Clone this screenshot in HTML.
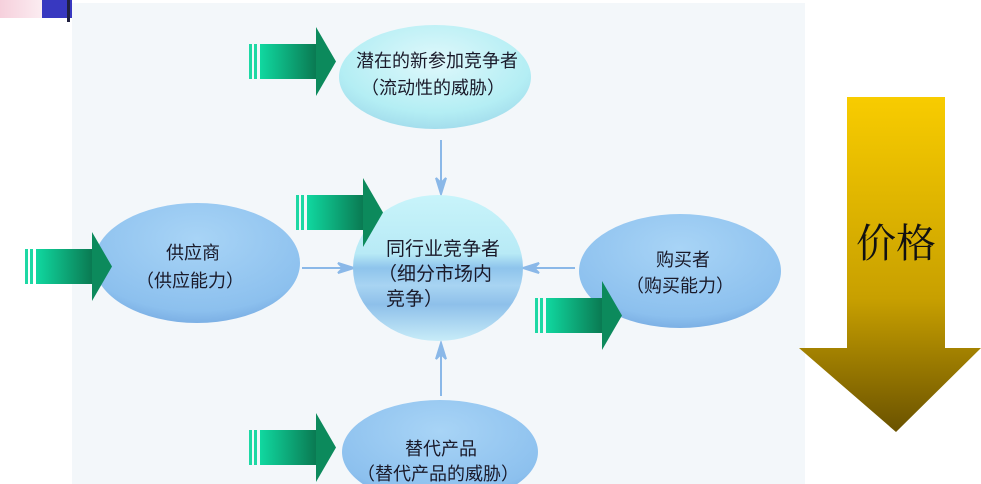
<!DOCTYPE html>
<html><head><meta charset="utf-8"><style>
body{margin:0;width:981px;height:484px;overflow:hidden;background:#fff;}
svg{display:block}
text{font-family:"Liberation Sans","Noto Sans CJK SC",sans-serif;fill:#1a1a2a;}
</style></head><body>
<svg width="981" height="484" viewBox="0 0 981 484">
<defs>
<linearGradient id="pink" x1="0" x2="1"><stop offset="0" stop-color="#f6d0dc"/><stop offset="1" stop-color="#fff"/></linearGradient>
<linearGradient id="grn" x1="0" x2="1"><stop offset="0" stop-color="#10d8a0"/><stop offset="1" stop-color="#0a7a52"/></linearGradient>
<linearGradient id="gold" x1="0" y1="0" x2="0" y2="1"><stop offset="0" stop-color="#f8cc00"/><stop offset="0.6" stop-color="#c8a000"/><stop offset="1" stop-color="#6a5200"/></linearGradient>
<radialGradient id="cyan" cx="0.5" cy="0.35" r="0.7"><stop offset="0" stop-color="#dff8fb"/><stop offset="0.7" stop-color="#b4eef4"/><stop offset="1" stop-color="#9ed8ea"/></radialGradient>
<radialGradient id="blue" cx="0.5" cy="0.3" r="0.75"><stop offset="0" stop-color="#a8d4f6"/><stop offset="0.8" stop-color="#8cc0ee"/><stop offset="1" stop-color="#74a8e0"/></radialGradient>
<linearGradient id="ctr" x1="0" y1="0" x2="0" y2="1"><stop offset="0" stop-color="#c8f4fa"/><stop offset="0.4" stop-color="#b8eaf6"/><stop offset="0.5" stop-color="#8ec4ec"/><stop offset="0.62" stop-color="#a8d4f2"/><stop offset="0.75" stop-color="#8ec0ea"/><stop offset="1" stop-color="#c8ecf8"/></linearGradient>
<g id="ga">
<rect x="0" y="17" width="3" height="35" fill="#1ed8a4"/>
<rect x="5" y="17" width="3" height="35" fill="#1ed8a4"/>
<rect x="11" y="17" width="56" height="35" fill="url(#grn)"/>
<polygon points="67,0 87,34.5 67,69" fill="#0c8a5c"/>
</g>
</defs>
<rect x="0" y="0" width="70" height="18" fill="url(#pink)"/>
<rect x="42" y="0" width="30" height="18" fill="#3838c0"/>
<rect x="67" y="0" width="3" height="22" fill="#202040"/>
<rect x="72" y="3" width="733" height="481" fill="#f3f7fa"/>

<!-- connectors -->
<g stroke="#8ab8e8" stroke-width="2" fill="#8ab8e8">
<line x1="441" y1="140" x2="441" y2="192"/><polygon points="436,178 441,194 446,178 441,183"/>
<line x1="302" y1="268" x2="352" y2="268"/><polygon points="338,263 354,268 338,273 343,268"/>
<line x1="575" y1="268" x2="525" y2="268"/><polygon points="539,263 523,268 539,273 534,268"/>
<line x1="441" y1="396" x2="441" y2="345"/><polygon points="436,359 441,343 446,359 441,354"/>
</g>

<ellipse cx="435" cy="77" rx="96" ry="52" fill="url(#cyan)"/>
<ellipse cx="197" cy="263" rx="103" ry="60" fill="url(#blue)"/>
<ellipse cx="680" cy="271" rx="101" ry="57" fill="url(#blue)"/>
<ellipse cx="440" cy="452" rx="98" ry="52" fill="url(#blue)"/>
<ellipse cx="438" cy="268" rx="85" ry="73" fill="url(#ctr)"/>

<use href="#ga" x="249" y="27"/>
<use href="#ga" x="296" y="178"/>
<use href="#ga" x="25" y="232"/>
<use href="#ga" x="535" y="281"/>
<use href="#ga" x="249" y="413"/>

<g font-size="18" text-anchor="middle">
<text x="437" y="67">潜在的新参加竞争者</text>
<text x="433" y="94">（流动性的威胁）</text>
<text x="193" y="259">供应商</text>
<text x="190" y="287">（供应能力）</text>
<text x="683" y="266">购买者</text>
<text x="680" y="292">（购买能力）</text>
<text x="441" y="455">替代产品</text>
<text x="438" y="480">（替代产品的威胁）</text>
</g>
<g font-size="19">
<text x="386" y="255">同行业竞争者</text>
<text x="378" y="280">（细分市场内</text>
<text x="386" y="305">竞争）</text>
</g>

<polygon points="847,97 945,97 945,348 981,348 896,432 799,348 847,348" fill="url(#gold)"/>
<text x="896" y="257" font-size="40" text-anchor="middle" style='font-family:"Liberation Serif","Noto Serif CJK SC",serif;fill:#111'>价格</text>
</svg>
</body></html>
